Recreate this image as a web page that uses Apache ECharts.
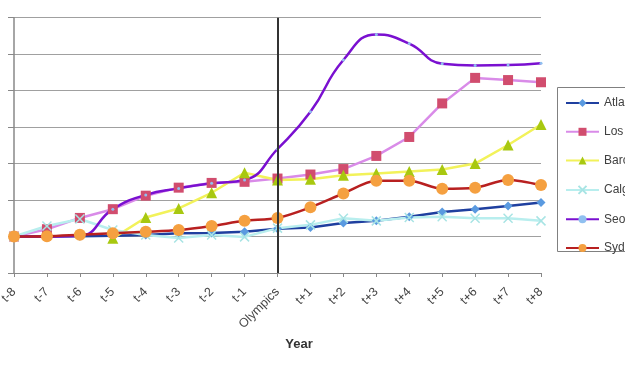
<!DOCTYPE html>
<html><head><meta charset="utf-8">
<script src="https://cdn.jsdelivr.net/npm/echarts@6/dist/echarts.min.js"></script>
<style>html,body{margin:0;padding:0;background:#fff}#c{width:625px;height:375px}</style>
</head><body><div id="c"></div>
<script>
var categories = ['t-8','t-7','t-6','t-5','t-4','t-3','t-2','t-1','Olympics','t+1','t+2','t+3','t+4','t+5','t+6','t+7','t+8'];
var atlanta   = [100,100,101,102,104,109,110,113,121,125,137,143,154,167,175,184,193];
var losAngeles= [100,120,151,175,212,234,247,250,259,270,285,321,373,465,535,529,523];
var barcelona = [null,null,null,95,152,177,220,275,255,257,268,273,278,284,300,351,407];
var calgary   = [100,129,148,118,104,96,104,99,123,132,150,143,152,154,150,150,143];
var seoul     = [100,100,102,175,214,232,246,255,340,442,584,654,629,574,569,570,575];
var sydney    = [100,101,105,109,113,118,129,143,151,180,218,253,253,231,234,255,241];
var seriesNames = ['Atlanta','Los Angeles','Barcelona','Calgary','Seoul','Sydney'];

var chart = echarts.init(document.getElementById('c'), null, {renderer:'canvas'});
function mk(name, data, lineColor, sym, symSize, symColor, extra){
  var s = {
    name: name, type: 'line', data: data, symbol: sym, symbolSize: symSize,
    showAllSymbol: true, connectNulls: false,
    lineStyle: {color: lineColor, width: 2.5},
    itemStyle: {color: symColor},
    emphasis: {disabled: true}, animation: false
  };
  if (extra) for (var k in extra) s[k] = extra[k];
  return s;
}
var xPath = 'path://M0,0L10,10M10,0L0,10';
var option = {
  animation: false,
  grid: {left: 14, right: 84, top: 17.7, bottom: 102, containLabel: false, outerBoundsMode: 'none'},
  graphic: [{type: 'rect', x: 0, y: 0, shape: {x: 557.5, y: 87.5, width: 120, height: 164},
    style: {fill: 'none', stroke: '#808080', lineWidth: 1}, silent: true, z: 0}],
  legend: {
    orient: 'vertical', left: 557, top: 87,
    data: seriesNames,
    itemWidth: 33, itemHeight: 10, itemGap: 16.8,
    padding: [10, 5, 10, 8],
    borderWidth: 0,
    textStyle: {fontFamily: 'Liberation Sans, Arial', fontSize: 12, color: '#404040'}
  },
  xAxis: {
    type: 'category', data: categories, boundaryGap: false,
    name: 'Year', nameLocation: 'middle', nameGap: 64,
    nameTextStyle: {fontFamily: 'Liberation Sans, Arial', fontSize: 13, fontWeight: 'bold', color: '#333', padding: [0,0,0,43]},
    axisLine: {lineStyle: {color: '#888', width: 1}},
    axisTick: {alignWithLabel: true, length: 4, lineStyle: {color: '#888'}},
    axisLabel: {rotate: 45, fontFamily: 'Liberation Sans, Arial', fontSize: 12.5, color: '#444', margin: 17, interval: 0},
    splitLine: {show: false}
  },
  yAxis: {
    type: 'value', min: 0, max: 700, interval: 100,
    axisLine: {show: true, lineStyle: {color: '#888', width: 1.5}},
    axisTick: {show: true, length: 6, lineStyle: {color: '#888'}},
    axisLabel: {show: false},
    splitLine: {lineStyle: {color: '#a0a0a0', width: 1.2}}
  },
  series: [
    mk('Atlanta', atlanta, '#1f3f9f', 'diamond', 9, '#5a9ae0'),
    mk('Los Angeles', losAngeles, '#d98be8', 'rect', 10, '#d14d6e'),
    mk('Barcelona', barcelona, '#f2f25a', 'triangle', 11, '#a8c810'),
    mk('Calgary', calgary, '#b8eeee', xPath, 9, '#b8eeee', {itemStyle: {color: 'none', borderColor: '#a8e4e4', borderWidth: 1.5}}),
    mk('Seoul', seoul, '#7a10d0', 'circle', 3, '#90c0f0', {smooth: 0.5}),
    mk('Sydney', sydney, '#b82020', 'circle', 12, '#f5a040', {smooth: 0.3,
      markLine: {silent: true, symbol: 'none', label: {show: false},
        lineStyle: {color: '#333', width: 2, type: 'solid'},
        data: [{xAxis: 'Olympics'}]}})
  ]
};
chart.setOption(option);
</script></body></html>
